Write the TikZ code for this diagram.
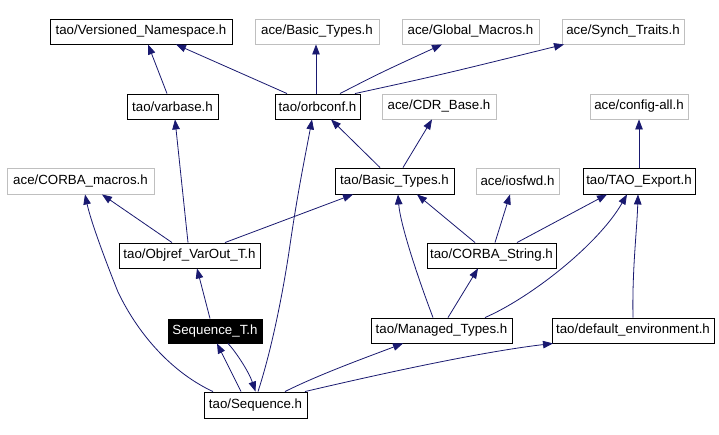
\documentclass[tikz,border=0pt]{standalone}
\usepackage{fontspec}
\setmainfont{Liberation Sans}
\usetikzlibrary{arrows.meta}
\definecolor{edgeblue}{RGB}{25,25,112}
\definecolor{grayline}{RGB}{191,191,191}
\tikzset{
  hbox/.style={draw=black, line width=0.9pt, fill=white, inner sep=0pt, minimum height=25pt, font=\fontsize{13.3pt}{14pt}\selectfont, text=black},
  taobox/.style={hbox},
  acebox/.style={hbox, draw=grayline},
  curbox/.style={hbox, fill=black, text=white},
  dep/.style={draw=edgeblue, line width=0.8pt, -{Triangle[length=10pt,width=7.5pt]}, color=edgeblue}
}
\begin{document}
\begin{tikzpicture}[x=1pt,y=-1pt]
\fill[white] (0,0) rectangle (719,435);
\useasboundingbox (0,0) rectangle (719,435);
% nodes
\node[taobox, minimum width=182pt] (vns) at (141,31.5) {tao/Versioned\_Namespace.h};
\node[acebox, minimum width=124pt] (abt) at (317,31.5) {ace/Basic\_Types.h};
\node[acebox, minimum width=137pt] (agm) at (470.5,31.5) {ace/Global\_Macros.h};
\node[acebox, minimum width=122pt] (ast) at (623,31.5) {ace/Synch\_Traits.h};
\node[taobox, minimum width=91pt] (varbase) at (172.5,106.5) {tao/varbase.h};
\node[taobox, minimum width=85pt] (orbconf) at (317.5,106.5) {tao/orbconf.h};
\node[acebox, minimum width=114pt] (cdr) at (439,106.5) {ace/CDR\_Base.h};
\node[acebox, minimum width=98pt] (cfg) at (639,106.5) {ace/config-all.h};
\node[acebox, minimum width=147pt, minimum height=26pt] (cmac) at (80.5,181) {ace/CORBA\_macros.h};
\node[taobox, minimum width=119pt, minimum height=26pt] (tbt) at (394.5,181) {tao/Basic\_Types.h};
\node[acebox, minimum width=83pt, minimum height=26pt] (iosfwd) at (517.5,181) {ace/iosfwd.h};
\node[taobox, minimum width=112pt, minimum height=26pt] (tex) at (639,181) {tao/TAO\_Export.h};
\node[taobox, minimum width=141pt] (objref) at (189.5,255.5) {tao/Objref\_VarOut\_T.h};
\node[taobox, minimum width=129pt] (cstr) at (491.5,255.5) {tao/CORBA\_String.h};
\node[curbox, minimum width=94pt, minimum height=24pt] (seqT) at (215,331) {Sequence\_T.h};
\node[taobox, minimum width=141pt] (mt) at (441.5,330.5) {tao/Managed\_Types.h};
\node[taobox, minimum width=162pt] (denv) at (633,330.5) {tao/default\_environment.h};
\node[taobox, minimum width=103pt, minimum height=26pt] (seq) at (255.5,405) {tao/Sequence.h};
% edges
\draw[dep] ([xshift=-5.5pt]varbase.north) -- ([xshift=7pt]vns.south);
\draw[dep] ([xshift=-30.5pt]orbconf.north) -- ([xshift=35pt]vns.south);
\draw[dep] ([xshift=-1.5pt]orbconf.north) -- ([xshift=-1pt]abt.south);
\draw[dep] ([xshift=22.5pt]orbconf.north) .. controls (380,73) .. ([xshift=-28.5pt]agm.south);
\draw[dep] ([xshift=37.5pt]orbconf.north) .. controls (440,75) .. ([xshift=-59pt]ast.south);
\draw[dep] ([xshift=-1.5pt]objref.north) -- ([xshift=2.5pt]varbase.south);
\draw[dep] ([xshift=-17.5pt]objref.north) -- ([xshift=21.5pt]cmac.south);
\draw[dep] ([xshift=35.5pt]objref.north) -- ([xshift=-41.5pt]tbt.south);
\draw[dep] ([xshift=-14.5pt]tbt.north) -- ([xshift=13.5pt]orbconf.south);
\draw[dep] ([xshift=8.5pt]tbt.north) -- ([xshift=-7pt]cdr.south);
\draw[dep] (tex.north) -- (cfg.south);
\draw[dep] ([xshift=-16.5pt]cstr.north) -- ([xshift=22.5pt]tbt.south);
\draw[dep] ([xshift=3.5pt]cstr.north) -- ([xshift=-7.5pt]iosfwd.south);
\draw[dep] ([xshift=25.5pt]cstr.north) -- ([xshift=-32pt]tex.south);
\draw[dep] ([xshift=-8.5pt]mt.north) .. controls (415,270) and (400,222) .. ([xshift=3.5pt]tbt.south);
\draw[dep] ([xshift=6.5pt]mt.north) -- ([xshift=-13.5pt]cstr.south);
\draw[dep] ([xshift=43.5pt]mt.north) .. controls (530,298) and (598,245) .. ([xshift=-12pt]tex.south);
\draw[dep] (denv.north) .. controls (632,270) and (637,230) .. ([xshift=-1pt]tex.south);
\draw[dep] ([xshift=-5pt]seqT.north) -- ([xshift=7.5pt]objref.south);
\draw[dep] ([xshift=-14.5pt]seq.north) -- ([xshift=2pt]seqT.south);
\draw[dep] ([xshift=13pt]seqT.south) .. controls (236,352) and (249,372) .. (seq.north);
\draw[dep] ([xshift=-42.5pt]seq.north) .. controls (175,374) and (140,338) .. (118,292) .. controls (106,262) and (91,222) .. ([xshift=4.5pt]cmac.south);
\draw[dep] ([xshift=2.5pt]seq.north) .. controls (270,355) and (282,300) .. (290,245) .. controls (298,190) and (306,152) .. ([xshift=-5.5pt]orbconf.south);
\draw[dep] ([xshift=29.5pt]seq.north) .. controls (320,374) and (370,356) .. ([xshift=-38.5pt]mt.south);
\draw[dep] ([xshift=49.5pt]seq.north) .. controls (380,374) and (480,352) .. ([xshift=-80pt]denv.south);
\end{tikzpicture}
\end{document}
